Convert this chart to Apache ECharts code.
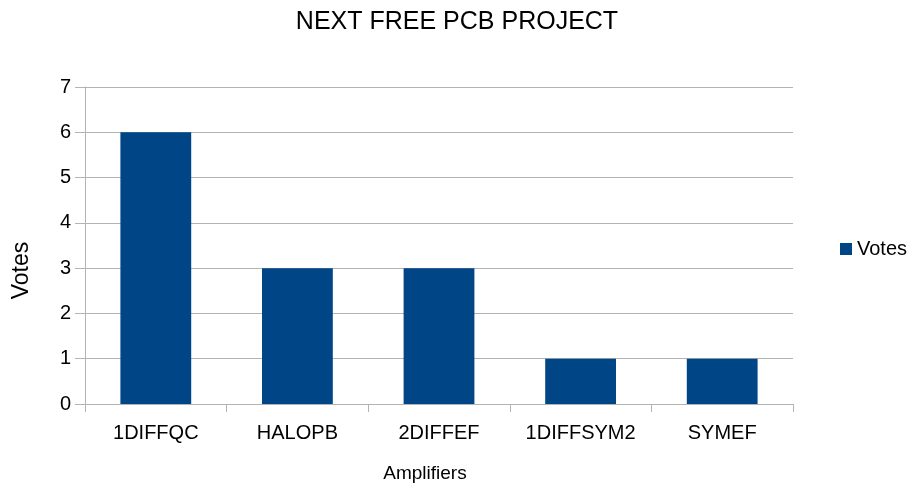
<!DOCTYPE html>
<html><head><meta charset="utf-8">
<script src="https://cdn.jsdelivr.net/npm/echarts@6/dist/echarts.min.js"></script>
<style>html,body{margin:0;padding:0;background:#fff}#c{width:922px;height:490px}</style>
</head><body><div id="c"></div>
<script>
const categories = ['1DIFFQC','HALOPB','2DIFFEF','1DIFFSYM2','SYMEF'];
const votes = [6,3,3,1,1];
const yTicks = [0,1,2,3,4,5,6,7];
const chart = echarts.init(document.getElementById('c'), null, {renderer:'canvas'});
const font = '"Liberation Sans", Arial, sans-serif';
chart.setOption({
  animation:false,
  backgroundColor:'#fff',
  title:{text:'NEXT FREE PCB PROJECT', left:452, top:5, textAlign:'center',
    textStyle:{fontFamily:font,fontWeight:'normal',fontSize:25,color:'#000'}},
  legend:{data:['Votes'], orient:'vertical', left:835, top:234, itemWidth:12, itemHeight:12, itemGap:4,
    icon:'rect', textStyle:{fontFamily:font,fontSize:20,color:'#000'}},
  grid:{left:85, right:129, top:87, bottom:86, containLabel:false},
  xAxis:{type:'category', data:categories, name:'Amplifiers', nameLocation:'middle', nameGap:60,
    nameTextStyle:{fontFamily:font,fontSize:19,color:'#000',padding:[0,28,0,0]},
    axisLine:{lineStyle:{color:'#b3b3b3',width:1}},
    axisTick:{show:true,length:8,interval:0,lineStyle:{color:'#b3b3b3'}},
    axisLabel:{fontFamily:font,fontSize:20,color:'#000',margin:19,interval:0}},
  yAxis:{type:'value', min:yTicks[0], max:yTicks[yTicks.length-1], interval:1, name:'Votes',
    nameLocation:'middle', nameGap:52, nameRotate:90,
    nameTextStyle:{fontFamily:font,fontSize:23,color:'#000',padding:[0,50,0,0]},
    axisLine:{show:true,lineStyle:{color:'#b3b3b3'}},
    axisTick:{show:true,length:10,lineStyle:{color:'#b3b3b3'}},
    axisLabel:{fontFamily:font,fontSize:20,color:'#000',margin:14},
    splitLine:{show:true,lineStyle:{color:'#b3b3b3',width:1}}},
  series:[{name:'Votes', type:'bar', data:votes, barWidth:'50%', itemStyle:{color:'#004586'}}]
});
</script></body></html>
